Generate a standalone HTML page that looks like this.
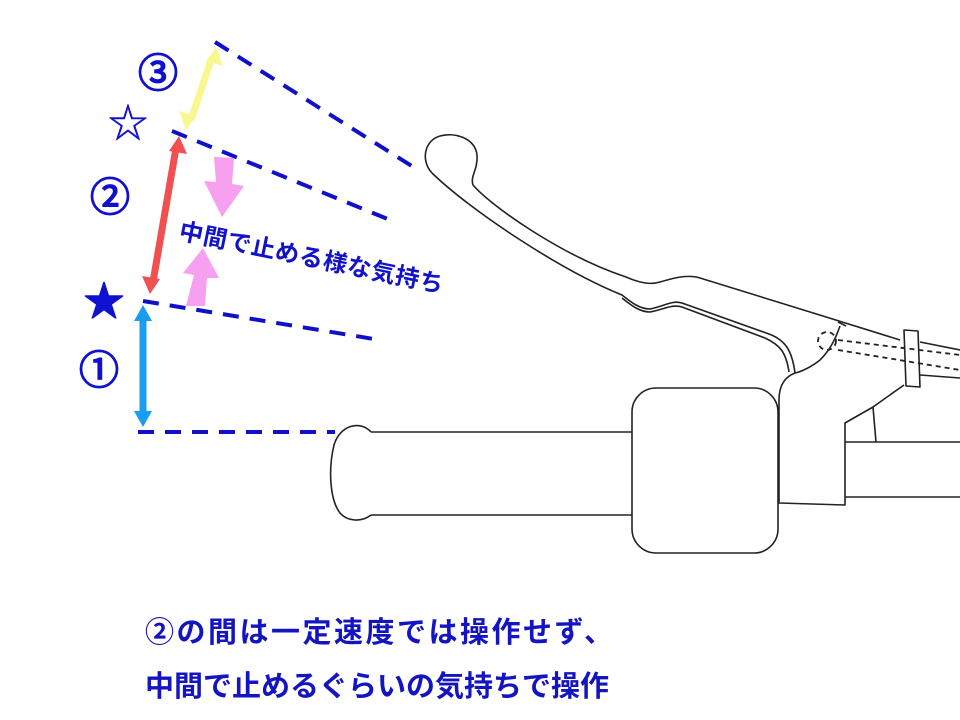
<!DOCTYPE html>
<html><head><meta charset="utf-8"><style>
html,body{margin:0;padding:0;background:#fff;}
body{width:960px;height:720px;overflow:hidden;position:relative;font-family:"Liberation Sans","Noto Sans CJK JP",sans-serif;}
.t{position:absolute;white-space:nowrap;color:#1414c0;font-weight:bold;}
.n{position:absolute;white-space:nowrap;color:#1010d0;font-size:40px;-webkit-text-stroke:1.5px #1010d0;line-height:1;}
</style></head><body>
<svg width="960" height="720" style="position:absolute;left:0;top:0">
<g fill="none" stroke="#222" stroke-width="1.6" stroke-linejoin="round">
<path d="M432,173 C420,160 425,140 440,136 C455,132 475,138 477,155 C478,170 470,176 473,185 C490,205 560,255 626,277 C640,283 650,285 660,282 C680,276 690,275 700,278 L810,312 L900,340"/>
<path d="M432,173 C470,210 560,270 622,295 C632,303 640,309 650,309 C665,306 672,300 682,303 L769,334 C785,340 792,350 795,373"/>
<path d="M622,298 C632,306 640,312 650,312 C665,309 672,304 682,307 L765,338 C780,345 786,352 789,372"/>
<path d="M795,373 C782,378 779,390 779,400 L779,503 L845,505 L845,423 L873,407 L904,385"/>
<path d="M840,326 C835,340 830,350 820,360 C810,368 800,372 795,373"/>
<path d="M838,322 L846,326"/>
<path d="M873,407 L876,442"/>
<path d="M904,330 L918,331 L920,387 L906,386 Z"/>
<path d="M920,342 L960,350 M920,375 L960,378"/>
<path d="M845,442 L960,442 M845,497 L960,497"/>
<path d="M371,432 L632,432 M371,515 L632,515"/>
<path d="M371,432 C360,420 340,425 334,445 C328,470 330,500 340,513 C348,522 362,522 371,515"/>
<rect x="632" y="388" width="146" height="165" rx="24"/>
</g>
<g fill="none" stroke="#222" stroke-width="1.8" stroke-dasharray="5,4">
<circle cx="827" cy="341" r="9"/>
<path d="M838,340 L960,355 M838,350 L960,370"/>
</g>
<g stroke="#1010c8" stroke-width="4" stroke-dasharray="16,11" fill="none">
<path d="M215,42 L418,170"/>
<path d="M172,131 L395,222"/>
<path d="M143,301 L380,340"/>
<path d="M138,432 L335,432"/>
</g>
<g stroke-width="7" fill="none">
<path d="M191,120 L211,60" stroke="#f8f890"/>
<path d="M153,282 L176,148" stroke="#f05050"/>
<path d="M143,318 L143,414" stroke="#1a9cf0"/>
</g>
<polygon points="216,47 223,66 206,61" fill="#f8f890"/>
<polygon points="186,130 179,111 196,116" fill="#f8f890"/>
<polygon points="179,136 187,154 169,151" fill="#f05050"/>
<polygon points="150,294 142,276 160,279" fill="#f05050"/>
<polygon points="143,305 152,321 134,321" fill="#1a9cf0"/>
<polygon points="143,427 152,411 134,411" fill="#1a9cf0"/>
<polygon points="214,157 234,158 232,184 244,186 222,217 204,181 216,182" fill="#f8a0f0"/>
<polygon points="186,306 205,306 207,278 219,278 203,248 183,273 194,275" fill="#f8a0f0"/>
</svg>
<div class="n" style="left:138px;top:54px;">③</div>
<div class="n" style="left:108px;top:104px;-webkit-text-stroke:0.5px #1010d0;">☆</div>
<div class="n" style="left:90px;top:178px;">②</div>
<div class="n" style="left:84px;top:282px;">★</div>
<div class="n" style="left:79px;top:351px;">①</div>
<div class="t" style="left:180px;top:211px;font-size:24px;letter-spacing:0.5px;color:#1212c8;transform:rotate(11.6deg);transform-origin:0 50%;">中間で止める様な気持ち</div>
<div class="t" style="left:145px;top:609px;font-size:29px;letter-spacing:2.5px;">②の間は一定速度では操作せず、</div>
<div class="t" style="left:145px;top:663px;font-size:29px;letter-spacing:0px;">中間で止めるぐらいの気持ちで操作</div>
</body></html>
